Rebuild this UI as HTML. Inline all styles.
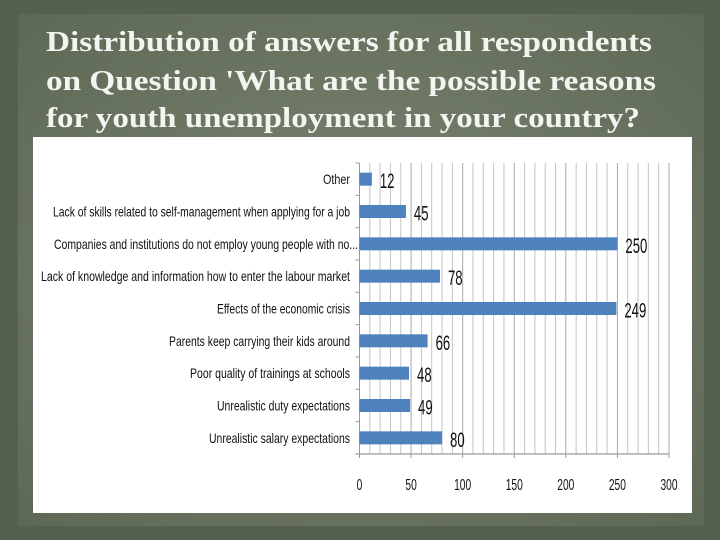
<!DOCTYPE html>
<html><head><meta charset="utf-8"><style>
html,body{margin:0;padding:0;width:720px;height:540px;overflow:hidden;background:#56614f;}
svg{display:block}
</style></head><body>
<svg width="720" height="540" viewBox="0 0 720 540" xmlns="http://www.w3.org/2000/svg">
  <defs>
    <radialGradient id="bg" cx="50%" cy="50%" r="70%">
      <stop offset="0%" stop-color="#7c8673"/>
      <stop offset="100%" stop-color="#5d6855"/>
    </radialGradient>
  </defs>
  <rect x="0" y="0" width="720" height="540" fill="#55604e"/>
  <rect x="18" y="14" width="686" height="512" rx="4" fill="url(#bg)"/>
  <g font-family="'Liberation Serif', serif" font-weight="bold" font-size="28" fill="#f4f4f0">
    <text x="46" y="51" textLength="606" lengthAdjust="spacingAndGlyphs">Distribution of answers for all respondents</text>
    <text x="46" y="90" textLength="610" lengthAdjust="spacingAndGlyphs">on Question 'What are the possible reasons</text>
    <text x="46" y="127" textLength="594" lengthAdjust="spacingAndGlyphs">for youth unemployment in your country?</text>
  </g>
  <rect x="33" y="137" width="659" height="376" fill="#ffffff"/>
  <g id="chart"></g>
</svg>
<script>
const categories = ["Other","Lack of skills related to self-management when applying for a job","Companies and institutions do not employ young people with no...","Lack of knowledge and information how to enter the labour market","Effects of the economic crisis","Parents keep carrying their kids around","Poor quality of trainings at schools","Unrealistic duty expectations","Unrealistic salary expectations"];
const values = [12,45,250,78,249,66,48,49,80];
const tickLabels = [0,50,100,150,200,250,300];
const labelWidths = [27,297,304,309,133,181,160,133,141];

const NS="http://www.w3.org/2000/svg";
const g=document.getElementById('chart');
const x0=359.5,x1=669,yTop=163,yBot=454,xMax=300;
const xs=v=>x0+(v/xMax)*(x1-x0);
const band=(yBot-yTop)/categories.length;
const yc=i=>yTop+band*(i+0.5);
function mk(t,a){const e=document.createElementNS(NS,t);for(const k in a)e.setAttribute(k,a[k]);g.appendChild(e);return e;}
for(let v=10;v<=xMax;v+=10){
  const l=mk('line',{x1:xs(v),x2:xs(v),y1:yTop,y2:yBot,stroke:(v%50===0)?'#a8a8a8':'#c4c4c4','stroke-width':1});
  
  
}
const ya=mk('line',{x1:x0,x2:x0,y1:yTop,y2:yBot,stroke:'#999','stroke-width':1});


const xa=mk('line',{x1:x0-4,x2:x1,y1:yBot,y2:yBot,stroke:'#999','stroke-width':1.2});


for(let i=0;i<=categories.length;i++){
  const tk=mk('line',{x1:x0-4,x2:x0,y1:yTop+band*i,y2:yTop+band*i,stroke:'#999'});
  
  
}
tickLabels.forEach(v=>{
  const tk=mk('line',{x1:xs(v),x2:xs(v),y1:yBot,y2:yBot+4,stroke:'#999'});
  
  
  const s=String(v);
  const t=mk('text',{x:xs(v),y:yBot+36,'text-anchor':'middle','font-family':"'Liberation Sans Narrow','Liberation Sans',sans-serif",'font-size':16,fill:'#111',textLength:s.length*5.7,lengthAdjust:'spacingAndGlyphs'});
  t.textContent=s;
  
  
});
categories.forEach((c,i)=>{
  const y=yc(i);
  const r=mk('rect',{x:x0,y:y-6.5,width:xs(values[i])-x0,height:13,fill:'#4f81bd'});
  
  
  const lab=mk('text',{x:(i===2?358:350)-labelWidths[i],y:y+5,'font-family':"'Liberation Sans Narrow','Liberation Sans',sans-serif",'font-size':14,fill:'#111',textLength:labelWidths[i],lengthAdjust:'spacingAndGlyphs'});
  lab.textContent=c;
  
  
  const s=String(values[i]);
  const vl=mk('text',{x:xs(values[i])+8,y:y+9,'font-family':"'Liberation Sans Narrow','Liberation Sans',sans-serif",'font-size':21,fill:'#111',textLength:s.length*7.3,lengthAdjust:'spacingAndGlyphs'});
  vl.textContent=s;
  
  
});
</script>
</body></html>
